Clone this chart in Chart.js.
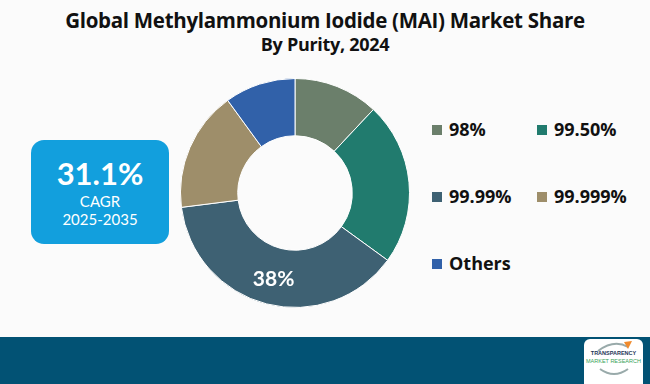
<!DOCTYPE html>
<html>
<head>
<meta charset="utf-8">
<script src="https://cdn.jsdelivr.net/npm/chart.js@4"></script>
<style>
  html, body { margin: 0; padding: 0; }
  body { width: 650px; height: 384px; background: #fbfbfb; position: relative; overflow: hidden; font-family: "Open Sans", sans-serif; }
  .title { position: absolute; left: 0; width: 650px; text-align: center; color: #111; font-weight: 700; }
  #t1 { top: 6px; font-size: 20.5px; letter-spacing: -0.3px; }
  #t2 { top: 32px; font-size: 18px; letter-spacing: -0.3px; }
  #cagr { position: absolute; left: 31px; top: 140px; width: 138px; height: 104px; background: #129fdd; border-radius: 13px; color: #fff; text-align: center; }
  #cagr .big { font-size: 31px; font-weight: 700; margin-top: 14px; line-height: 38px; font-family: "Lato", sans-serif; }
  #cagr .small { font-size: 15px; line-height: 18px; font-family: "Lato", sans-serif; }
  #chartBox { position: absolute; left: 175px; top: 73px; width: 240px; height: 240px; }
  #legend { position: absolute; left: 432px; top: 117px; width: 210px; }
  .item { position: absolute; font-size: 18px; font-weight: 700; color: #111; white-space: nowrap; }
  .item span { display: inline-block; width: 10px; height: 10px; margin-right: 7px; vertical-align: 1px; }
  #band { position: absolute; left: 0; top: 337px; width: 650px; height: 47px; background: #025274; }
  #logo { position: absolute; left: 584px; top: 339px; width: 59px; height: 50px; background: #fff; border-radius: 6px; text-align: center; font-family: "Liberation Sans", sans-serif; white-space: nowrap; }
  #logo svg { position: absolute; left: 0; top: 0; }
  #logo .a { position: absolute; left: 0; width: 59px; top: 11px; font-size: 5.5px; font-weight: 700; color: #1d3557; }
  #logo .b { position: absolute; left: 0; width: 59px; top: 19px; font-size: 5.5px; color: #3aa35a; }
</style>
</head>
<body>
<div class="title" id="t1">Global Methylammonium Iodide (MAI) Market Share</div>
<div class="title" id="t2">By Purity, 2024</div>

<div id="cagr">
  <div class="big">31.1%</div>
  <div class="small">CAGR</div>
  <div class="small">2025-2035</div>
</div>

<div id="chartBox"><canvas id="chart"></canvas></div>
<div id="legend"></div>

<div id="band"></div>
<div id="logo">
  <svg width="59" height="50"><path d="M14 12 Q30 0 44 8" stroke="#9aa" stroke-width="2" fill="none"/><path d="M40 3 L48 2 L44 10 Z" fill="#f08a2c"/><path d="M16 30 Q30 40 44 30" stroke="#9aa" stroke-width="2" fill="none"/></svg>
  <div class="a">TRANSPARENCY</div><div class="b">MARKET RESEARCH</div>
</div>

<script>
const labels = ['98%', '99.50%', '99.99%', '99.999%', 'Others'];
const shares = [12, 23, 38, 17, 10];
const colors = ['#6b7f6b', '#217b6e', '#3e6173', '#9e8e6a', '#3161a9'];
const shownLabels = [2]; // only the biggest slice carries a value

// legend laid out two per row
const legendEl = document.getElementById('legend');
labels.forEach((name, i) => {
  const d = document.createElement('div');
  d.className = 'item';
  d.style.left = (i % 2) * 105 + 'px';
  d.style.top = Math.floor(i / 2) * 67 + 'px';
  d.innerHTML = '<span style="background:' + colors[i] + '"></span>' + name;
  legendEl.appendChild(d);
});

const sliceLabels = {
  id: 'sliceLabels',
  afterDatasetsDraw(chart) {
    const ctx = chart.ctx;
    const meta = chart.getDatasetMeta(0);
    ctx.save();
    ctx.fillStyle = '#fff';
    ctx.font = 'bold 21px "Lato", sans-serif';
    ctx.textAlign = 'center';
    ctx.textBaseline = 'middle';
    shownLabels.forEach(i => {
      const p = meta.data[i].getCenterPoint();
      ctx.fillText(shares[i] + '%', p.x, p.y + 3);
    });
    ctx.restore();
  }
};

new Chart(document.getElementById('chart'), {
  type: 'doughnut',
  data: {
    labels: labels,
    datasets: [{
      data: shares,
      backgroundColor: colors,
      borderColor: '#ffffff',
      borderWidth: 1
    }]
  },
  options: {
    responsive: true,
    maintainAspectRatio: false,
    animation: false,
    cutout: '50%',
    layout: { padding: 5 },
    plugins: {
      legend: { display: false },
      tooltip: { enabled: false }
    }
  },
  plugins: [sliceLabels]
});
</script>
</body>
</html>
